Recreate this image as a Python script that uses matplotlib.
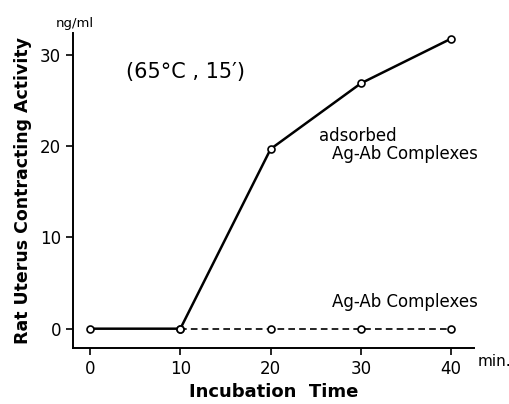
import matplotlib.pyplot as plt

TIMES = [0, 10, 20, 30, 40]
ADSORBED = [0, 0, 19.7, 26.9, 31.8]
COMPLEX_TIMES = [10, 20, 30, 40]
COMPLEX = [0, 0, 0, 0]
X_TICKS = [0, 10, 20, 30, 40]
Y_TICKS = [0, 10, 20, 30]

plt.rcParams["font.family"] = ["DejaVu Sans"]

fig = plt.figure(figsize=(5.1, 4.04), dpi=100)
ax = fig.add_axes([0.143, 0.139, 0.786, 0.779])

ax.plot(TIMES, ADSORBED, color="black", lw=1.8, marker="o", ms=5,
        mfc="white", mec="black", mew=1.2, zorder=3)
ax.plot(COMPLEX_TIMES, COMPLEX, color="black", lw=1.2, ls=(0, (4, 2.5)),
        marker="o", ms=5, mfc="white", mec="black", mew=1.2, zorder=2)

ax.set_xlim(-1.9, 42.5)
ax.set_ylim(-2.1, 32.4)
ax.set_xticks(X_TICKS)
ax.set_yticks(Y_TICKS)
ax.tick_params(direction="out", length=5, width=1.2, labelsize=12)
for s in ["top", "right"]:
    ax.spines[s].set_visible(False)
for s in ["left", "bottom"]:
    ax.spines[s].set_linewidth(1.4)

ax.set_ylabel("Rat Uterus Contracting Activity", fontsize=12.5, fontweight="bold", labelpad=6)
ax.set_xlabel("Incubation  Time", fontsize=13, fontweight="bold", labelpad=4)

fig.text(0.147, 0.925, "ng/ml", fontsize=9.5, ha="center", va="bottom")
ax.text(42.9, -3.6, "min.", fontsize=11, va="center", clip_on=False)
ax.text(4, 27.5, "(65°C , 15′)", fontsize=15)
ax.text(25.3, 20.6, "adsorbed", fontsize=12)
ax.text(26.8, 18.6, "Ag-Ab Complexes", fontsize=12)
ax.text(26.8, 2.4, "Ag-Ab Complexes", fontsize=12)

fig.savefig("out.png", dpi=100)
